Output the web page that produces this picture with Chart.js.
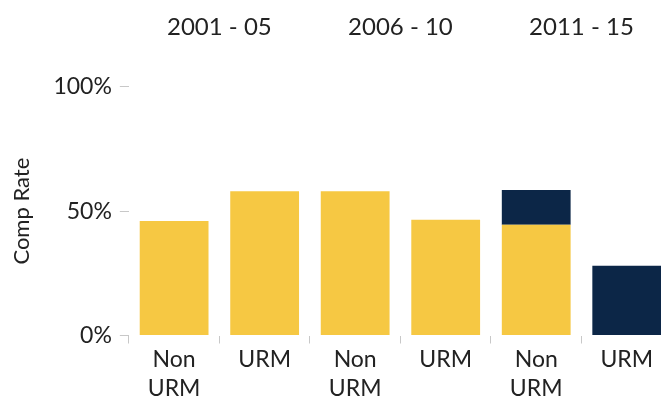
<!DOCTYPE html>
<html>
<head>
<meta charset="utf-8">
<script src="https://cdn.jsdelivr.net/npm/chart.js@4.4.0/dist/chart.umd.min.js"></script>
<style>
  html, body { margin: 0; padding: 0; background: #fff; overflow: hidden; }
  #wrap { width: 661px; height: 411px; overflow: hidden; }
</style>
</head>
<body>
<div id="wrap"><canvas id="chart" width="672" height="411"></canvas></div>
<script>
var categories = [['Non', 'URM'], 'URM', ['Non', 'URM'], 'URM', ['Non', 'URM'], 'URM'];
var periods = ['2001 - 05', '2006 - 10', '2011 - 15'];
var yellowValues = [46, 58, 58, 46.5, 44.5, 0];
var navyValues = [0, 0, 0, 0, 14, 28];
var yTicks = [0, 50, 100];

var fontName = 'Lato, "Open Sans", sans-serif';

const data = {
  labels: categories,
  datasets: [
    {
      label: 'Yellow',
      backgroundColor: '#F6C843',
      data: yellowValues,
      xAxisID: 'x',
      barPercentage: 0.76,
      categoryPercentage: 1
    },
    {
      label: 'Navy',
      backgroundColor: '#0C2647',
      data: navyValues,
      xAxisID: 'x',
      barPercentage: 0.76,
      categoryPercentage: 1
    }
  ]
};

const config = {
  type: 'bar',
  data: data,
  options: {
    responsive: false,
    animation: false,
    layout: {
      padding: { top: 13, bottom: 6, left: 9, right: 0 }
    },
    plugins: {
      legend: { display: false },
      tooltip: { enabled: false }
    },
    scales: {
      x: {
        stacked: true,
        border: { display: false },
        grid: {
          drawOnChartArea: false,
          tickLength: 8,
          color: '#c8c8c8'
        },
        ticks: {
          color: '#222',
          padding: 2,
          maxRotation: 0,
          minRotation: 0,
          font: { family: fontName, size: 23, lineHeight: 1.25 }
        }
      },
      x2: {
        type: 'category',
        labels: periods,
        position: 'top',
        border: { display: false },
        grid: {
          drawOnChartArea: false,
          tickLength: 45,
          color: 'rgba(0,0,0,0)'
        },
        ticks: {
          color: '#222',
          padding: 0,
          maxRotation: 0,
          minRotation: 0,
          font: { family: fontName, size: 24 }
        }
      },
      y: {
        stacked: true,
        min: 0,
        max: 100,
        afterBuildTicks: function (axis) {
          axis.ticks = yTicks.map(function (v) { return { value: v }; });
        },
        border: { display: false },
        grid: {
          drawOnChartArea: false,
          tickLength: 9,
          color: '#c8c8c8'
        },
        ticks: {
          color: '#222',
          padding: 8,
          font: { family: fontName, size: 23 },
          callback: function (v) { return v + '%'; }
        },
        title: {
          display: true,
          text: 'Comp Rate',
          color: '#222',
          padding: { top: 0, bottom: 10 },
          font: { family: fontName, size: 22 }
        }
      }
    }
  }
};

var myChart = new Chart(document.getElementById('chart'), config);
</script>
</body>
</html>
